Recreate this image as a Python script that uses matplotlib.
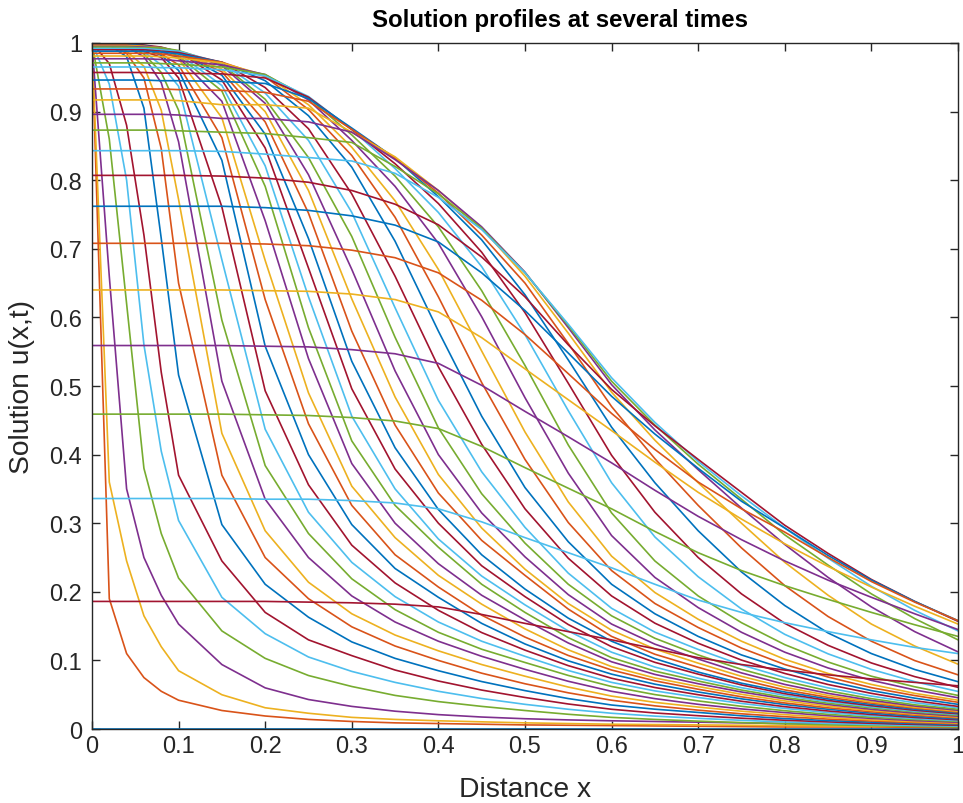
import matplotlib
matplotlib.use('Agg')
import matplotlib.pyplot as plt

plt.rcParams['font.family'] = ['Liberation Sans', 'DejaVu Sans']

# mesh points along x
x_mesh = [0, 0.02, 0.04, 0.06, 0.08, 0.1, 0.15, 0.2, 0.25, 0.3, 0.35, 0.4,
          0.45, 0.5, 0.55, 0.6, 0.65, 0.7, 0.75, 0.8, 0.85, 0.9, 0.95, 1.0]

# one row of u per output time
u_00 = [0] * 24
u_01 = [1.0, 0.19, 0.11, 0.075, 0.055, 0.042, 0.027, 0.019, 0.014, 0.011, 0.009, 0.008, 0.007, 0.006, 0.0055, 0.005, 0.0045, 0.004, 0.0035, 0.003, 0.003, 0.003, 0.0025, 0.002]
u_02 = [1.0, 0.36, 0.245, 0.165, 0.12, 0.085, 0.05, 0.031, 0.023, 0.017, 0.014, 0.012, 0.0105, 0.009, 0.008, 0.007, 0.0065, 0.006, 0.0055, 0.005, 0.0045, 0.004, 0.004, 0.004]
u_03 = [1.0, 0.66, 0.35, 0.25, 0.195, 0.153, 0.094, 0.06, 0.043, 0.033, 0.026, 0.021, 0.0175, 0.015, 0.0133, 0.012, 0.011, 0.01, 0.009, 0.008, 0.0075, 0.007, 0.0065, 0.006]
u_04 = [1.0, 0.86, 0.62, 0.38, 0.285, 0.22, 0.143, 0.103, 0.078, 0.062, 0.049, 0.04, 0.033, 0.027, 0.0215, 0.017, 0.014, 0.0115, 0.0094, 0.0077, 0.0062, 0.005, 0.004, 0.0031]
u_05 = [1.0, 0.94, 0.8, 0.56, 0.405, 0.304, 0.192, 0.139, 0.105, 0.084, 0.068, 0.055, 0.0445, 0.036, 0.0288, 0.023, 0.0188, 0.0156, 0.0127, 0.0103, 0.0082, 0.0065, 0.0052, 0.0043]
u_06 = [1.0, 0.97, 0.88, 0.72, 0.52, 0.37, 0.245, 0.17, 0.13, 0.107, 0.086, 0.07, 0.0568, 0.046, 0.0365, 0.0288, 0.0234, 0.0194, 0.0158, 0.0128, 0.0104, 0.0084, 0.0068, 0.0055]
u_07 = [1.0, 0.997, 0.98, 0.905, 0.715, 0.516, 0.298, 0.211, 0.163, 0.127, 0.103, 0.085, 0.0692, 0.056, 0.0444, 0.035, 0.0289, 0.0242, 0.0193, 0.0152, 0.0123, 0.0101, 0.0081, 0.0065]
u_08 = [1.0, 0.998, 0.985, 0.949, 0.846, 0.65, 0.37, 0.25, 0.19, 0.149, 0.121, 0.1, 0.0814, 0.066, 0.0528, 0.042, 0.0338, 0.0275, 0.0222, 0.018, 0.0145, 0.0117, 0.0094, 0.0077]
u_09 = [1.0, 0.999, 0.988, 0.966, 0.902, 0.772, 0.431, 0.289, 0.214, 0.168, 0.137, 0.114, 0.094, 0.077, 0.0612, 0.048, 0.0389, 0.032, 0.026, 0.021, 0.0168, 0.0134, 0.0107, 0.0088]
u_10 = [1.0, 1.0, 0.994, 0.98, 0.942, 0.856, 0.507, 0.335, 0.25, 0.194, 0.156, 0.128, 0.106, 0.087, 0.0696, 0.055, 0.0443, 0.036, 0.0293, 0.024, 0.0194, 0.0155, 0.0123, 0.0099]
u_11 = [1.0, 1.0, 0.995, 0.984, 0.957, 0.902, 0.596, 0.384, 0.285, 0.219, 0.174, 0.141, 0.1163, 0.097, 0.0781, 0.062, 0.0502, 0.041, 0.0331, 0.0267, 0.0214, 0.0172, 0.0138, 0.0112]
u_12 = [1.0, 1.0, 0.996, 0.987, 0.968, 0.937, 0.684, 0.437, 0.316, 0.243, 0.193, 0.156, 0.128, 0.106, 0.0853, 0.068, 0.0556, 0.046, 0.0373, 0.030, 0.024, 0.0192, 0.0153, 0.0123]
u_13 = [1.0, 1.0, 0.997, 0.988, 0.979, 0.949, 0.761, 0.493, 0.356, 0.268, 0.213, 0.173, 0.1406, 0.115, 0.0924, 0.074, 0.0605, 0.050, 0.0405, 0.0326, 0.0263, 0.0212, 0.0169, 0.0135]
u_14 = [1.0, 1.0, 0.997, 0.992, 0.982, 0.96, 0.829, 0.558, 0.40, 0.298, 0.234, 0.192, 0.154, 0.124, 0.0994, 0.080, 0.0654, 0.054, 0.044, 0.0357, 0.0288, 0.0232, 0.0185, 0.0148]
u_15 = [1.0, 1.0, 0.998, 0.994, 0.984, 0.968, 0.862, 0.626, 0.445, 0.326, 0.254, 0.207, 0.166, 0.134, 0.1072, 0.086, 0.0703, 0.058, 0.047, 0.038, 0.0309, 0.0252, 0.0203, 0.0163]
u_16 = [1.0, 1.0, 0.999, 0.995, 0.987, 0.977, 0.891, 0.683, 0.49, 0.354, 0.279, 0.224, 0.182, 0.146, 0.1154, 0.091, 0.0744, 0.062, 0.0506, 0.041, 0.0333, 0.027, 0.0217, 0.0175]
u_17 = [1.0, 1.0, 0.999, 0.996, 0.987, 0.979, 0.915, 0.741, 0.54, 0.387, 0.30, 0.241, 0.195, 0.159, 0.1254, 0.098, 0.0796, 0.066, 0.054, 0.044, 0.0357, 0.0288, 0.0231, 0.0187]
u_18 = [1.0, 1.0, 0.999, 0.996, 0.991, 0.981, 0.93, 0.791, 0.585, 0.42, 0.326, 0.265, 0.211, 0.17, 0.1332, 0.104, 0.0844, 0.070, 0.0568, 0.046, 0.0376, 0.0308, 0.0249, 0.020]
u_19 = [1.0, 1.0, 1.0, 0.997, 0.992, 0.984, 0.938, 0.821, 0.63, 0.456, 0.35, 0.277, 0.223, 0.181, 0.1429, 0.112, 0.0903, 0.074, 0.0602, 0.049, 0.0398, 0.0324, 0.0261, 0.0212]
u_20 = [1.0, 1.0, 1.0, 0.997, 0.994, 0.987, 0.946, 0.847, 0.672, 0.496, 0.379, 0.3, 0.238, 0.193, 0.1523, 0.12, 0.0972, 0.080, 0.0643, 0.0515, 0.0417, 0.034, 0.0274, 0.0223]
u_21 = [0.998, 0.998, 0.998, 0.996, 0.993, 0.987, 0.953, 0.867, 0.715, 0.536, 0.41, 0.32, 0.254, 0.204, 0.1616, 0.128, 0.1026, 0.083, 0.0668, 0.054, 0.0439, 0.0358, 0.029, 0.0236]
u_22 = [0.997, 0.997, 0.997, 0.995, 0.993, 0.986, 0.958, 0.885, 0.752, 0.58, 0.443, 0.344, 0.275, 0.224, 0.1748, 0.135, 0.109, 0.090, 0.0719, 0.057, 0.0462, 0.0378, 0.0305, 0.0248]
u_23 = [0.996, 0.996, 0.996, 0.995, 0.993, 0.987, 0.962, 0.9, 0.785, 0.627, 0.484, 0.371, 0.293, 0.233, 0.1829, 0.144, 0.1166, 0.096, 0.0768, 0.061, 0.049, 0.0396, 0.0318, 0.026]
u_24 = [0.995, 0.995, 0.995, 0.994, 0.993, 0.988, 0.967, 0.912, 0.808, 0.67, 0.522, 0.4, 0.315, 0.251, 0.1959, 0.153, 0.1237, 0.102, 0.0818, 0.065, 0.052, 0.0418, 0.0335, 0.0274]
u_25 = [0.994, 0.994, 0.994, 0.993, 0.993, 0.989, 0.969, 0.918, 0.833, 0.718, 0.571, 0.439, 0.343, 0.271, 0.211, 0.165, 0.1323, 0.108, 0.087, 0.070, 0.0557, 0.0443, 0.0353, 0.0289]
u_26 = [0.992, 0.992, 0.992, 0.992, 0.99, 0.988, 0.971, 0.927, 0.858, 0.753, 0.614, 0.479, 0.375, 0.294, 0.2272, 0.176, 0.1412, 0.116, 0.0934, 0.075, 0.06, 0.048, 0.0383, 0.031]
u_27 = [0.99, 0.99, 0.99, 0.99, 0.988, 0.986, 0.972, 0.935, 0.875, 0.78, 0.66, 0.528, 0.415, 0.321, 0.2489, 0.194, 0.1543, 0.125, 0.1005, 0.081, 0.0649, 0.052, 0.0413, 0.033]
u_28 = [0.988, 0.988, 0.988, 0.988, 0.987, 0.984, 0.972, 0.945, 0.894, 0.819, 0.711, 0.58, 0.456, 0.352, 0.273, 0.211, 0.168, 0.135, 0.108, 0.0875, 0.07, 0.056, 0.045, 0.036]
u_29 = [0.985, 0.985, 0.985, 0.985, 0.984, 0.981, 0.972, 0.951, 0.903, 0.836, 0.746, 0.63, 0.505, 0.393, 0.301, 0.231, 0.183, 0.148, 0.118, 0.094, 0.0758, 0.0603, 0.0488, 0.039]
u_30 = [0.981, 0.981, 0.981, 0.981, 0.98, 0.978, 0.971, 0.953, 0.91, 0.848, 0.77, 0.67, 0.551, 0.433, 0.331, 0.252, 0.199, 0.16, 0.128, 0.1016, 0.081, 0.065, 0.052, 0.042]
u_31 = [0.977, 0.977, 0.977, 0.977, 0.976, 0.974, 0.968, 0.954, 0.917, 0.858, 0.791, 0.708, 0.601, 0.483, 0.373, 0.282, 0.221, 0.177, 0.141, 0.112, 0.089, 0.071, 0.057, 0.0456]
u_32 = [0.971, 0.971, 0.971, 0.971, 0.97, 0.969, 0.965, 0.954, 0.92, 0.866, 0.806, 0.732, 0.639, 0.53, 0.414, 0.315, 0.245, 0.194, 0.155, 0.123, 0.0977, 0.077, 0.0616, 0.049]
u_33 = [0.965, 0.965, 0.965, 0.965, 0.964, 0.964, 0.961, 0.952, 0.922, 0.874, 0.817, 0.753, 0.674, 0.575, 0.464, 0.359, 0.28, 0.222, 0.175, 0.138, 0.1096, 0.0869, 0.069, 0.0548]
u_34 = [0.957, 0.957, 0.957, 0.957, 0.956, 0.956, 0.955, 0.949, 0.921, 0.874, 0.824, 0.766, 0.695, 0.607, 0.504, 0.399, 0.316, 0.25, 0.197, 0.154, 0.122, 0.0963, 0.0764, 0.0608]
u_35 = [0.946, 0.946, 0.946, 0.946, 0.945, 0.945, 0.944, 0.941, 0.919, 0.876, 0.832, 0.776, 0.713, 0.633, 0.538, 0.44, 0.359, 0.289, 0.229, 0.18, 0.14, 0.11, 0.0868, 0.069]
u_36 = [0.933, 0.933, 0.933, 0.933, 0.933, 0.932, 0.931, 0.928, 0.915, 0.874, 0.832, 0.781, 0.72, 0.65, 0.562, 0.47, 0.394, 0.326, 0.264, 0.209, 0.164, 0.128, 0.0998, 0.079]
u_37 = [0.917, 0.917, 0.917, 0.917, 0.917, 0.916, 0.91, 0.91, 0.905, 0.87, 0.834, 0.785, 0.73, 0.66, 0.577, 0.491, 0.421, 0.359, 0.30, 0.243, 0.195, 0.153, 0.121, 0.0945]
u_38 = [0.896, 0.896, 0.896, 0.896, 0.896, 0.895, 0.89, 0.89, 0.885, 0.87, 0.83, 0.785, 0.732, 0.666, 0.585, 0.502, 0.436, 0.378, 0.322, 0.269, 0.221, 0.178, 0.142, 0.1125]
u_39 = [0.873, 0.873, 0.873, 0.873, 0.873, 0.872, 0.87, 0.868, 0.862, 0.855, 0.82, 0.78, 0.73, 0.665, 0.588, 0.507, 0.443, 0.386, 0.335, 0.283, 0.239, 0.197, 0.161, 0.13]
u_40 = [0.843, 0.843, 0.843, 0.843, 0.843, 0.843, 0.842, 0.838, 0.833, 0.828, 0.81, 0.775, 0.728, 0.665, 0.59, 0.512, 0.447, 0.39, 0.34, 0.293, 0.249, 0.208, 0.173, 0.143]
u_41 = [0.807, 0.807, 0.807, 0.807, 0.807, 0.807, 0.806, 0.803, 0.797, 0.785, 0.765, 0.735, 0.688, 0.63, 0.56, 0.495, 0.442, 0.393, 0.345, 0.297, 0.256, 0.218, 0.186, 0.157]
u_42 = [0.762, 0.762, 0.762, 0.762, 0.762, 0.762, 0.762, 0.76, 0.756, 0.748, 0.7345, 0.71, 0.665, 0.61, 0.548, 0.485, 0.43, 0.38, 0.332, 0.293, 0.253, 0.217, 0.186, 0.158]
u_43 = [0.708, 0.708, 0.708, 0.708, 0.708, 0.708, 0.708, 0.707, 0.7045, 0.698, 0.687, 0.665, 0.625, 0.575, 0.518, 0.46, 0.4075, 0.36, 0.321, 0.287, 0.25, 0.215, 0.185, 0.158]
u_44 = [0.64, 0.64, 0.64, 0.64, 0.64, 0.64, 0.64, 0.639, 0.638, 0.634, 0.626, 0.608, 0.5705, 0.525, 0.480, 0.435, 0.389, 0.345, 0.306, 0.27, 0.237, 0.207, 0.179, 0.153]
u_45 = [0.559, 0.559, 0.559, 0.559, 0.559, 0.559, 0.559, 0.558, 0.557, 0.553, 0.547, 0.533, 0.501, 0.463, 0.426, 0.388, 0.348, 0.31, 0.276, 0.245, 0.217, 0.192, 0.168, 0.145]
u_46 = [0.459, 0.459, 0.459, 0.459, 0.459, 0.459, 0.459, 0.458, 0.457, 0.454, 0.449, 0.438, 0.412, 0.381, 0.351, 0.321, 0.288, 0.257, 0.231, 0.209, 0.189, 0.17, 0.152, 0.135]
u_47 = [0.336, 0.336, 0.336, 0.336, 0.336, 0.336, 0.336, 0.335, 0.335, 0.333, 0.3295, 0.321, 0.302, 0.279, 0.257, 0.235, 0.211, 0.188, 0.170, 0.155, 0.142, 0.13, 0.119, 0.11]
u_48 = [0.186, 0.186, 0.186, 0.186, 0.186, 0.186, 0.186, 0.186, 0.185, 0.184, 0.182, 0.178, 0.167, 0.154, 0.142, 0.13, 0.117, 0.104, 0.094, 0.086, 0.079, 0.073, 0.068, 0.063]

rows = [u_00, u_01, u_02, u_03, u_04, u_05, u_06, u_07, u_08, u_09,
        u_10, u_11, u_12, u_13, u_14, u_15, u_16, u_17, u_18, u_19,
        u_20, u_21, u_22, u_23, u_24, u_25, u_26, u_27, u_28, u_29,
        u_30, u_31, u_32, u_33, u_34, u_35, u_36, u_37, u_38, u_39,
        u_40, u_41, u_42, u_43, u_44, u_45, u_46, u_47, u_48]

# MATLAB default line colours
colors = ['#0072BD', '#D95319', '#EDB120', '#7E2F8E', '#77AC30', '#4DBEEE', '#A2142F']

fig = plt.figure(figsize=(9.63, 8.04), dpi=100)
ax = fig.add_axes([0.0955, 0.092, 0.8993, 0.8533])

for i, row in enumerate(rows):
    ax.plot(x_mesh, row, color=colors[i % 7], lw=1.2)

ax.set_xlim(0, 1)
ax.set_ylim(0, 1)
ticks = [i / 10 for i in range(11)]
tick_labels = ['0', '0.1', '0.2', '0.3', '0.4', '0.5', '0.6', '0.7', '0.8', '0.9', '1']
ax.set_xticks(ticks)
ax.set_xticklabels(tick_labels)
ax.set_yticks(ticks)
ax.set_yticklabels(tick_labels)
ax.tick_params(direction='in', length=6, width=1, colors='#262626', labelsize=17,
               top=True, right=True)
ax.tick_params(axis='x', pad=4)
ax.tick_params(axis='y', pad=7)
for sp in ax.spines.values():
    sp.set_color('#262626')
    sp.set_linewidth(1)

ax.set_title('Solution profiles at several times', fontsize=17.3, fontweight='bold',
             x=0.54, y=1.0335, pad=0, va='center')
ax.set_xlabel('Distance x', fontsize=20.3, color='#262626', va='center')
ax.xaxis.set_label_coords(0.5, -0.0875)
ax.set_ylabel('Solution u(x,t)', fontsize=20.3, color='#262626', va='center')
ax.yaxis.set_label_coords(-0.081, 0.5)

fig.savefig('out.png', dpi=100)
